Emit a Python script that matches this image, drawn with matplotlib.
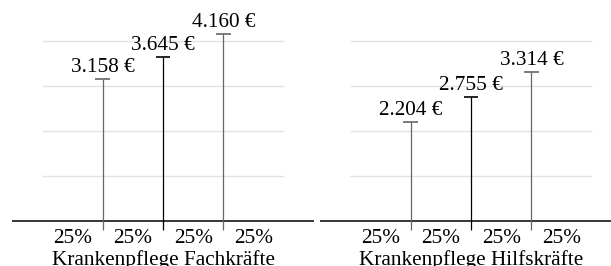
import matplotlib.pyplot as plt

plt.rcParams['font.family'] = ['Liberation Serif', 'DejaVu Serif']

# Data
groups = ['Krankenpflege Fachkräfte', 'Krankenpflege Hilfskräfte']
quartile_pos = [25, 50, 75]
values = [[3158, 3645, 4160], [2204, 2755, 3314]]
value_labels = [['3.158 €', '3.645 €', '4.160 €'], ['2.204 €', '2.755 €', '3.314 €']]
share_labels = ['25%', '25%', '25%', '25%']
share_centers = [12.5, 37.5, 62.5, 87.5]
grid_values = [1000, 2000, 3000, 4000]

fig = plt.figure(figsize=(6.11, 2.66), dpi=100)
W, H = 611, 266
lefts = [12, 320]
width = 302
fs = 15.3

for i, name in enumerate(groups):
    ax = fig.add_axes([lefts[i] / W, 0, width / W, 1])
    ax.set_xlim(-12.4, 112.4)
    ax.set_ylim(-1000, 4911)
    ax.axis('off')

    # light gridlines over the 0-100% range
    ax.hlines(grid_values, 0, 100, color='#e3e3e3', lw=1.0, zorder=1)
    # baseline
    ax.axhline(0, color='black', lw=1.1, zorder=2)

    for j, (x, v) in enumerate(zip(quartile_pos, values[i])):
        c = 'black' if j == 1 else '#666666'
        ax.plot([x, x], [-200, v], color=c, lw=0.9, zorder=3, solid_capstyle='butt')
        ax.plot([x - 2.9, x + 2.9], [v, v], color=c, lw=1.2, zorder=3, solid_capstyle='butt')
        ax.annotate(value_labels[i][j], (x, v), xytext=(0, 5), textcoords='offset points',
                    ha='center', va='baseline', fontsize=fs)

    for x, s in zip(share_centers, share_labels):
        ax.text(x, -489, s, ha='center', va='baseline', fontsize=fs)
    ax.text(50, -978, name, ha='center', va='baseline', fontsize=fs)

fig.savefig('out.png', dpi=100)
